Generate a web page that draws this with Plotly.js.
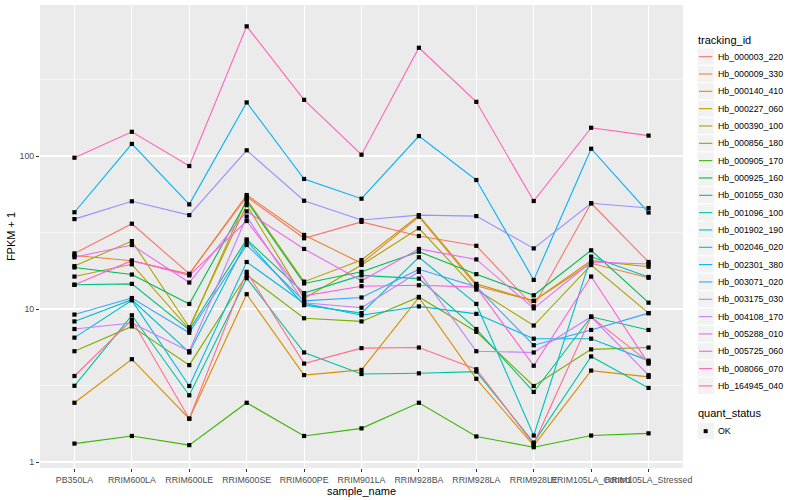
<!DOCTYPE html>
<html><head><meta charset="utf-8">
<script src="https://cdn.plot.ly/plotly-3.0.1.min.js"></script>
<style>html,body{margin:0;padding:0;background:#fff}</style>
</head><body><div id="chart" style="width:800px;height:500px"></div>
<script>
// ---- data ----
const samples = ["PB350LA","RRIM600LA","RRIM600LE","RRIM600SE","RRIM600PE","RRIM901LA","RRIM928BA","RRIM928LA","RRIM928LE","RRIM105LA_Control","RRIM105LA_Stressed"];
const trackingIds = ["Hb_000003_220","Hb_000009_330","Hb_000140_410","Hb_000227_060","Hb_000390_100","Hb_000856_180","Hb_000905_170","Hb_000925_160","Hb_001055_030","Hb_001096_100","Hb_001902_190","Hb_002046_020","Hb_002301_380","Hb_003071_020","Hb_003175_030","Hb_004108_170","Hb_005288_010","Hb_005725_060","Hb_008066_070","Hb_164945_040"];
const colors = ["#F8766D","#EA8331","#D89000","#C09B00","#A3A500","#7CAE00","#39B600","#00BB4E","#00BF7D","#00C1A3","#00BFC4","#00BAE0","#00B0F6","#35A2FF","#9590FF","#C77CFF","#E76BF3","#FA62DB","#FF62BC","#FF6C91"];
const s000003_220 = [23.1, 36.1, 17.0, 54.2, 29.0, 37.1, 30.0, 25.9, 10.4, 49.1, 20.3];
const s000009_330 = [22.4, 20.7, 16.9, 55.6, 30.5, 19.9, 40.1, 14.2, 11.3, 19.9, 16.0];
const s000140_410 = [2.44, 4.7, 1.92, 12.5, 3.7, 4.0, 11.9, 3.5, 1.28, 3.96, 3.6];
const s000227_060 = [16.3, 19.6, 7.4, 52.1, 15.1, 20.9, 40.8, 14.6, 11.3, 20.7, 18.9];
const s000390_100 = [19.1, 27.8, 7.6, 47.8, 11.7, 19.4, 33.7, 13.4, 7.8, 19.4, 9.4];
const s000856_180 = [5.3, 7.7, 4.3, 16.7, 8.7, 8.3, 12.0, 7.1, 3.14, 5.45, 5.6];
const s000905_170 = [1.32, 1.48, 1.29, 2.44, 1.48, 1.66, 2.44, 1.47, 1.25, 1.49, 1.54];
const s000925_160 = [18.7, 16.8, 10.8, 50.8, 14.7, 17.5, 23.7, 16.9, 12.3, 24.2, 11.0];
const s001055_030 = [14.4, 14.6, 7.3, 28.5, 12.7, 16.6, 15.8, 7.4, 2.87, 8.9, 7.3];
const s001096_100 = [3.15, 9.1, 2.73, 15.9, 5.2, 3.76, 3.8, 3.9, 1.34, 4.9, 3.05];
const s001902_190 = [8.3, 11.5, 5.2, 27.9, 10.6, 9.4, 21.8, 10.8, 1.49, 22.0, 16.2];
const s002046_020 = [6.5, 11.4, 3.14, 20.3, 10.9, 9.1, 10.4, 9.3, 6.4, 6.4, 4.6];
const s002301_380 = [42.9, 120, 48.3, 224, 70.8, 52.6, 135, 69.7, 15.5, 111.6, 42.7];
const s003071_020 = [9.2, 11.8, 7.0, 26.2, 11.3, 11.9, 18.2, 14.0, 5.8, 7.3, 9.4];
const s003175_030 = [38.7, 50.6, 41.1, 109, 51.0, 38.2, 41.1, 40.5, 24.9, 49.1, 45.7];
const s004108_170 = [7.4, 8.1, 5.3, 40.2, 11.0, 10.2, 17.5, 5.3, 5.2, 8.9, 3.7];
const s005288_010 = [21.8, 26.2, 14.9, 43.5, 24.7, 15.3, 24.7, 21.1, 10.1, 20.3, 19.7];
const s005725_060 = [14.4, 20.7, 16.6, 37.6, 12.2, 14.1, 14.3, 13.9, 4.26, 16.3, 4.4];
const s008066_070 = [97.5, 144, 86, 704, 233, 102, 510, 226, 50.8, 153, 136];
const s164945_040 = [3.65, 8.5, 1.92, 17.5, 4.4, 5.55, 5.6, 4.04, 1.31, 8.9, 4.5];
const seriesValues = [s000003_220, s000009_330, s000140_410, s000227_060, s000390_100, s000856_180, s000905_170, s000925_160, s001055_030, s001096_100, s001902_190, s002046_020, s002301_380, s003071_020, s003175_030, s004108_170, s005288_010, s005725_060, s008066_070, s164945_040];
const yTicks = [1, 10, 100];
const yMinor = [Math.sqrt(10), 10*Math.sqrt(10), 100*Math.sqrt(10)];
const statusLabels = ["OK"];

// ---- layout geometry ----
const W = 800, H = 500, M = {l: 40, r: 117, t: 5, b: 32};
const pw = W - M.l - M.r, ph = H - M.t - M.b;
const px = x => (x - M.l) / pw;
const py = y => (H - M.b - y) / ph;

const traces = [];
seriesValues.forEach((vals, i) => {
  traces.push({type: 'scatter', mode: 'lines', x: samples, y: vals, name: trackingIds[i],
    line: {color: colors[i], width: 1.1}, showlegend: false, hoverinfo: 'x+y+name'});
});
const allX = [], allY = [];
seriesValues.forEach(vals => vals.forEach((v, j) => { allX.push(samples[j]); allY.push(v); }));
traces.push({type: 'scatter', mode: 'markers', x: allX, y: allY, name: statusLabels[0],
  marker: {color: '#000', symbol: 'square', size: 4.2, line: {width: 0}}, showlegend: false, hoverinfo: 'skip'});

// ---- manual ggplot-like legend ----
const shapes = [], annotations = [];
const keyX0 = 697, keySize = 17.33, firstTop = 48.0;
annotations.push({xref: 'paper', yref: 'paper', x: px(696), y: py(40.5), xanchor: 'left', yanchor: 'middle',
  text: 'tracking_id', showarrow: false, font: {size: 11, color: '#000'}});
trackingIds.forEach((id, i) => {
  const top = firstTop + keySize * i, cy = top + keySize / 2;
  shapes.push({type: 'rect', xref: 'paper', yref: 'paper', x0: px(keyX0), x1: px(keyX0 + keySize), y0: py(top), y1: py(top + keySize),
    fillcolor: '#F2F2F2', line: {color: '#FFFFFF', width: 1}, layer: 'above'});
  shapes.push({type: 'line', xref: 'paper', yref: 'paper', x0: px(keyX0 + 2), x1: px(keyX0 + keySize - 2), y0: py(cy), y1: py(cy),
    line: {color: colors[i], width: 1.1}, layer: 'above'});
  annotations.push({xref: 'paper', yref: 'paper', x: px(716), y: py(cy), xanchor: 'left', yanchor: 'middle',
    text: id, showarrow: false, font: {size: 8.8, color: '#000'}});
});
annotations.push({xref: 'paper', yref: 'paper', x: px(696), y: py(413), xanchor: 'left', yanchor: 'middle',
  text: 'quant_status', showarrow: false, font: {size: 11, color: '#000'}});
{
  const top = 422.5, cy = top + keySize / 2;
  shapes.push({type: 'rect', xref: 'paper', yref: 'paper', x0: px(keyX0), x1: px(keyX0 + keySize), y0: py(top), y1: py(top + keySize),
    fillcolor: '#F2F2F2', line: {color: '#FFFFFF', width: 1}, layer: 'above'});
  shapes.push({type: 'rect', xref: 'paper', yref: 'paper', x0: px(keyX0 + keySize/2 - 2), x1: px(keyX0 + keySize/2 + 2), y0: py(cy - 2), y1: py(cy + 2),
    fillcolor: '#000', line: {width: 0}, layer: 'above'});
  annotations.push({xref: 'paper', yref: 'paper', x: px(716), y: py(cy), xanchor: 'left', yanchor: 'middle',
    text: statusLabels[0], showarrow: false, font: {size: 8.8, color: '#000'}});
}

const layout = {
  width: W, height: H,
  margin: M,
  paper_bgcolor: '#FFFFFF', plot_bgcolor: '#EBEBEB',
  font: {family: 'Liberation Sans, Arial, sans-serif', size: 9, color: '#4D4D4D'},
  showlegend: false,
  xaxis: {type: 'category', range: [-0.6, samples.length - 0.4], tickangle: 0,
    showgrid: true, gridcolor: '#FFFFFF', gridwidth: 1.1, zeroline: false, showline: false,
    ticks: 'outside', ticklen: 3, tickwidth: 1, tickcolor: '#333333',
    tickfont: {size: 8.8, color: '#4D4D4D'},
    title: {text: 'sample_name', font: {size: 11, color: '#000'}, standoff: 0}, automargin: false},
  yaxis: {type: 'log', range: [-0.039, 2.987],
    tickvals: yTicks, ticktext: yTicks.map(String),
    showgrid: true, gridcolor: '#FFFFFF', gridwidth: 1.1, zeroline: false, showline: false,
    ticks: 'outside', ticklen: 3, tickwidth: 1, tickcolor: '#333333',
    tickfont: {size: 8.8, color: '#4D4D4D'},
    minor: {tickvals: yMinor, showgrid: true, gridcolor: '#FFFFFF', gridwidth: 0.55, ticks: ''},
    title: {text: 'FPKM + 1', font: {size: 11, color: '#000'}, standoff: 1}, automargin: false},
  shapes: shapes,
  annotations: annotations
};
Plotly.newPlot('chart', traces, layout, {displayModeBar: false, staticPlot: true});
</script>
</body></html>
